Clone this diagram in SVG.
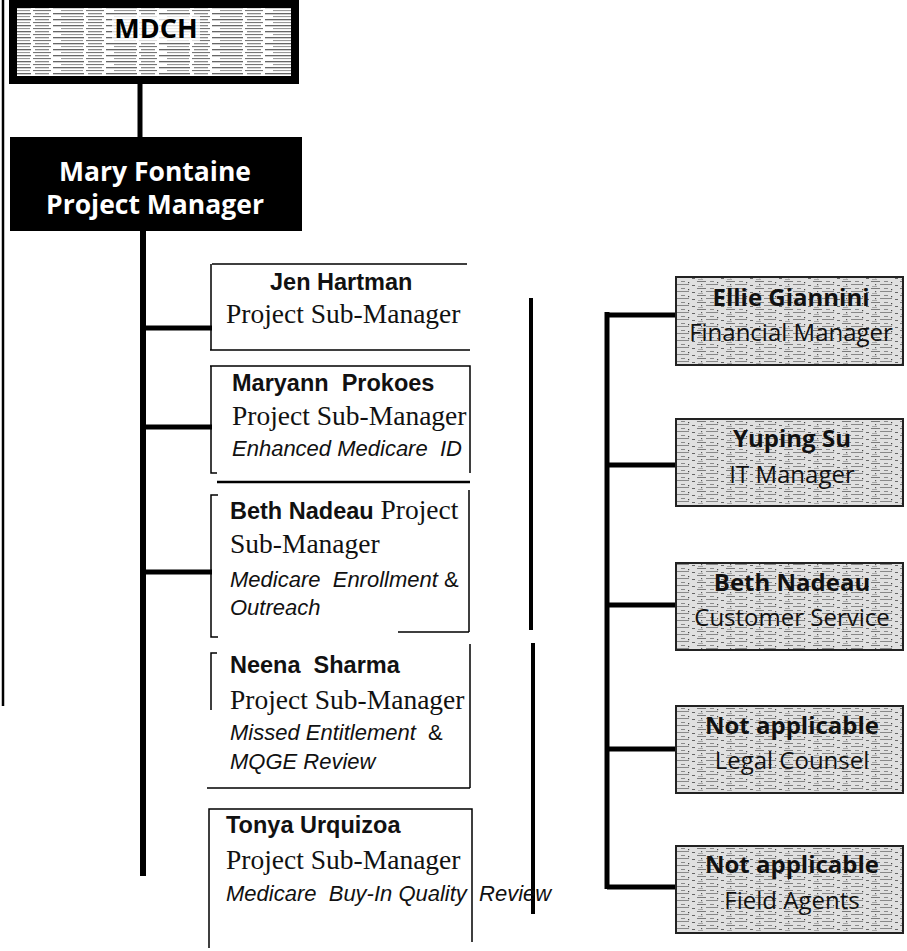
<svg xmlns="http://www.w3.org/2000/svg" width="907" height="951" viewBox="0 0 907 951">
<defs>
<pattern id="hatch" width="53" height="6" patternUnits="userSpaceOnUse">
<rect width="53" height="6" fill="#ffffff"/>
<rect x="0" y="1" width="31" height="1.3" fill="#666"/>
<rect x="35" y="1" width="14" height="1.3" fill="#888"/>
<rect x="8" y="4" width="22" height="1.1" fill="#999"/>
<rect x="33" y="4" width="18" height="1.1" fill="#777"/>
</pattern>
<pattern id="stipple" width="29" height="7" patternUnits="userSpaceOnUse">
<rect width="29" height="7" fill="#e0e0e0"/>
<rect x="1" y="1" width="9" height="1" fill="#7a7a7a"/>
<rect x="14" y="1" width="4" height="1" fill="#8a8a8a"/>
<rect x="21" y="2" width="1.2" height="1.2" fill="#444"/>
<rect x="5" y="4" width="1.2" height="1.2" fill="#555"/>
<rect x="10" y="4" width="12" height="1" fill="#888"/>
<rect x="25" y="5" width="3" height="1" fill="#666"/>
<rect x="2" y="6" width="5" height="0.8" fill="#999"/>
</pattern>
</defs>
<style>
.conn{stroke:#000;fill:none;stroke-linecap:butt}
.thick{stroke-width:5}
.frame{stroke:#000;fill:none;stroke-width:1.5}
.top{font-family:"Open Sans","Liberation Sans",sans-serif;font-weight:bold;text-anchor:middle}
.nm{font-family:"Liberation Sans",Arial,sans-serif;font-weight:bold;font-size:23.5px;fill:#111}
.ti{font-family:"Liberation Serif","Times New Roman",serif;font-size:27.5px;fill:#111}
.it{font-family:"Liberation Sans",Arial,sans-serif;font-style:italic;font-size:22px;fill:#111}
.amp{font-family:"Liberation Sans",Arial,sans-serif;font-size:22px;fill:#111}
.rb{fill:url(#stipple);stroke:#222;stroke-width:2}
.rt{font-family:"Open Sans","Liberation Sans",sans-serif;font-size:24px;text-anchor:middle;fill:#111}
.rtb{font-weight:bold}
</style>
<rect width="907" height="951" fill="#ffffff"/>

<g id="connectors">
<line class="conn" x1="3" y1="0" x2="3" y2="706" stroke-width="2.5"/>
<line class="conn thick" x1="140" y1="84" x2="140" y2="137"/>
<line class="conn" x1="143" y1="231" x2="143" y2="876" stroke-width="6"/>
<line class="conn thick" x1="143" y1="328" x2="212" y2="328"/>
<line class="conn thick" x1="143" y1="427" x2="212" y2="427"/>
<line class="conn thick" x1="143" y1="572" x2="212" y2="572"/>
<line class="conn" x1="531" y1="298" x2="531" y2="630" stroke-width="4"/>
<line class="conn" x1="533" y1="643" x2="533" y2="914" stroke-width="4"/>
<line class="conn thick" x1="607" y1="312" x2="607" y2="889"/>
<line class="conn thick" x1="605" y1="315" x2="676" y2="315"/>
<line class="conn thick" x1="607" y1="465" x2="676" y2="465"/>
<line class="conn thick" x1="607" y1="605" x2="676" y2="605"/>
<line class="conn thick" x1="607" y1="749" x2="676" y2="749"/>
<line class="conn thick" x1="607" y1="887" x2="676" y2="887"/>
</g>

<g id="mdch">
<rect x="13" y="4" width="282" height="76" fill="url(#hatch)" stroke="#000" stroke-width="8"/>
<rect x="112" y="16" width="88" height="26" fill="#ffffff" opacity="0.75"/>
<text class="top" x="156" y="38" font-size="27" fill="#000">MDCH</text>
</g>

<g id="mary-fontaine">
<rect x="10" y="137" width="292" height="94" fill="#000"/>
<text class="top" x="155" y="181" font-size="26.5" fill="#fff">Mary Fontaine</text>
<text class="top" x="155" y="214" font-size="26.5" fill="#fff">Project Manager</text>
</g>

<g id="jen-hartman">
<path class="frame" d="M212 264 H467 M211 264 V350 M210 350 H470"/>
<text class="nm" x="270" y="290">Jen Hartman</text>
<text class="ti" x="226" y="323">Project Sub-Manager</text>
</g>

<g id="maryann-prokoes">
<path class="frame" d="M210 366 H470 V473 M217 366 H211 V473 H217"/>
<path class="conn" d="M217 482 H470" stroke-width="2.5"/>
<text class="nm" x="232" y="391" xml:space="preserve">Maryann  Prokoes</text>
<text class="ti" x="232" y="425">Project Sub-Manager</text>
<text class="it" x="232" y="456" xml:space="preserve">Enhanced Medicare  ID</text>
</g>

<g id="beth-nadeau-sub">
<path class="frame" d="M218 495 H211 V637 H218 M469 490 V632 M398 632 H469"/>
<text x="230" y="519"><tspan class="nm">Beth Nadeau</tspan><tspan class="ti"> Project</tspan></text>
<text class="ti" x="230" y="553">Sub-Manager</text>
<text x="230" y="587"><tspan class="it" xml:space="preserve">Medicare  Enrollment </tspan><tspan class="amp">&amp;</tspan></text>
<text class="it" x="230" y="615">Outreach</text>
</g>

<g id="neena-sharma">
<path class="frame" d="M217 653 H211 V710 M470 644 V788 M207 788 H470"/>
<text class="nm" x="230" y="673" xml:space="preserve">Neena  Sharma</text>
<text class="ti" x="230" y="709">Project Sub-Manager</text>
<text x="230" y="740"><tspan class="it" xml:space="preserve">Missed Entitlement  </tspan><tspan class="amp">&amp;</tspan></text>
<text class="it" x="230" y="769">MQGE Review</text>
</g>

<g id="tonya-urquizoa">
<path class="frame" d="M209 948 V809 H472 V942"/>
<text class="nm" x="226" y="833">Tonya Urquizoa</text>
<text class="ti" x="226" y="869">Project Sub-Manager</text>
<text class="it" x="226" y="901" xml:space="preserve">Medicare  Buy-In Quality  Review</text>
</g>

<g id="ellie-giannini">
<rect class="rb" x="676" y="277" width="227" height="88"/>
<text class="rt rtb" x="791" y="306">Ellie Giannini</text>
<text class="rt" x="791" y="341">Financial Manager</text>
</g>

<g id="yuping-su">
<rect class="rb" x="676" y="419" width="227" height="87"/>
<text class="rt rtb" x="792" y="447">Yuping Su</text>
<text class="rt" x="792" y="483">IT Manager</text>
</g>

<g id="beth-nadeau-cs">
<rect class="rb" x="676" y="563" width="227" height="87"/>
<text class="rt rtb" x="792" y="591">Beth Nadeau</text>
<text class="rt" x="792" y="626">Customer Service</text>
</g>

<g id="legal-counsel">
<rect class="rb" x="676" y="706" width="227" height="87"/>
<text class="rt rtb" x="792" y="734">Not applicable</text>
<text class="rt" x="792" y="769">Legal Counsel</text>
</g>

<g id="field-agents">
<rect class="rb" x="676" y="846" width="227" height="87"/>
<text class="rt rtb" x="792" y="873">Not applicable</text>
<text class="rt" x="792" y="909">Field Agents</text>
</g>
</svg>
